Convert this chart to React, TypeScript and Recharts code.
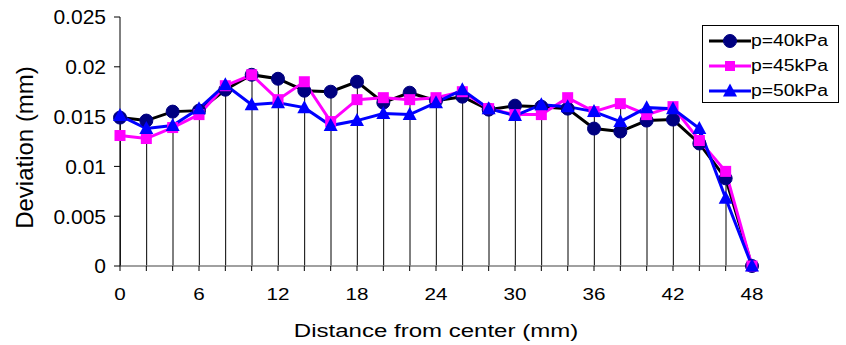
import React from "react";
import { ComposedChart, Line, Bar, XAxis, YAxis } from "recharts";

const distance = [0, 2, 4, 6, 8, 10, 12, 14, 16, 18, 20, 22, 24, 26, 28, 30, 32, 34, 36, 38, 40, 42, 44, 46, 48];
const p40 = [0.0149, 0.0146, 0.0155, 0.0156, 0.0177, 0.0192, 0.0188, 0.0176, 0.0175, 0.0185, 0.0164, 0.0174, 0.0166, 0.017, 0.0157, 0.0161, 0.016, 0.0158, 0.0138, 0.0135, 0.0146, 0.0147, 0.0123, 0.0088, 0];
const p45 = [0.0131, 0.0128, 0.0139, 0.0152, 0.0181, 0.0192, 0.0167, 0.0185, 0.0145, 0.0167, 0.0169, 0.0167, 0.0169, 0.0175, 0.0158, 0.0152, 0.0152, 0.0169, 0.0155, 0.0163, 0.0152, 0.016, 0.0126, 0.0095, 0];
const p50 = [0.0151, 0.0138, 0.0141, 0.0158, 0.0182, 0.0162, 0.0164, 0.0159, 0.0141, 0.0146, 0.0153, 0.0152, 0.0164, 0.0177, 0.0158, 0.0151, 0.0162, 0.016, 0.0155, 0.0145, 0.0159, 0.0158, 0.0138, 0.0068, 0];
const labeledTicks = [0, 6, 12, 18, 24, 30, 36, 42, 48];
const yTicks = [0, 0.005, 0.01, 0.015, 0.02, 0.025];
const seriesNames = ["p=40kPa", "p=45kPa", "p=50kPa"];

const FONT = "'Liberation Sans', Arial, sans-serif";

const chartData = distance.map((d, i) => ({
  d,
  p40: p40[i],
  p45: p45[i],
  p50: p50[i],
  top: Math.max(p40[i], p45[i], p50[i]),
}));

const CircleMark = ({ cx, cy, r = 6.5 }: any) => (
  <circle cx={cx} cy={cy} r={r} fill="#000080" stroke="#000080" />
);
const SquareMark = ({ cx, cy, s = 11 }: any) => (
  <rect x={cx - s / 2} y={cy - s / 2} width={s} height={s} fill="#FF00FF" />
);
const TriangleMark = ({ cx, cy }: any) => (
  <polygon points={`${cx},${cy - 7.5} ${cx + 7},${cy + 5.5} ${cx - 7},${cy + 5.5}`} fill="#0000FF" />
);

const dotCircle = (p: any) => <CircleMark key={`c-${p.index}`} cx={p.cx} cy={p.cy} />;
const dotSquare = (p: any) => <SquareMark key={`s-${p.index}`} cx={p.cx} cy={p.cy} />;
const dotTriangle = (p: any) => <TriangleMark key={`t-${p.index}`} cx={p.cx} cy={p.cy} />;

const DropLine = (props: any) => {
  const { x, y, width, height } = props;
  const cx = x + width / 2;
  return <line x1={cx} x2={cx} y1={y} y2={y + height} stroke="#000" strokeWidth={1} />;
};

const XTick = ({ x, y, payload }: any) => {
  if (payload.value % 6 !== 0) return <g />;
  return (
    <text
      transform={`translate(${x},${y + 27}) scale(1.29,1)`}
      textAnchor="middle"
      fontSize={16}
      fontFamily={FONT}
      fill="#000"
    >
      {payload.value}
    </text>
  );
};

const XTitle = ({ viewBox }: any) => (
  <text
    transform={`translate(${viewBox.x + viewBox.width / 2},${viewBox.y + 70.5}) scale(1.3,1)`}
    textAnchor="middle"
    fontSize={18.5}
    fontFamily={FONT}
    fill="#000"
  >
    Distance from center (mm)
  </text>
);

const YTitle = ({ viewBox }: any) => {
  const cx = viewBox.x + 24;
  const cy = viewBox.y + viewBox.height / 2 + 6;
  return (
    <text
      transform={`translate(${cx},${cy}) rotate(-90)`}
      textAnchor="middle"
      dominantBaseline="central"
      fontSize={24}
      fontFamily={FONT}
      fill="#000"
    >
      Deviation (mm)
    </text>
  );
};

const legendMarks = [
  { color: "#000000", mark: <CircleMark cx={21} cy={10} /> },
  { color: "#FF00FF", mark: <SquareMark cx={21} cy={10} s={10} /> },
  { color: "#0000FF", mark: <TriangleMark cx={21} cy={10} /> },
];

export default function App() {
  return (
    <div style={{ position: "absolute", left: 0, top: 0, width: 846, height: 345, background: "#fff" }}>
      <ComposedChart
        width={846}
        height={345}
        data={chartData}
        margin={{ top: 17, right: 94, left: 0, bottom: 0 }}
      >
        <XAxis
          dataKey="d"
          type="number"
          domain={[0, 48]}
          ticks={distance}
          interval={0}
          height={79}
          tickSize={5}
          axisLine={{ stroke: "#808080", strokeWidth: 1.5 }}
          tickLine={{ stroke: "#000" }}
          tick={<XTick />}
          label={{ content: <XTitle /> }}
        />
        <YAxis
          type="number"
          domain={[0, 0.025]}
          ticks={yTicks}
          width={120}
          tickSize={6}
          tickMargin={8}
          axisLine={{ stroke: "#000" }}
          tickLine={{ stroke: "#000" }}
          tick={{ fontSize: 21, fill: "#000", fontFamily: FONT }}
          label={{ content: <YTitle /> }}
        />
        <Bar dataKey="top" barSize={1} shape={<DropLine />} isAnimationActive={false} />
        <Line
          dataKey="p40"
          stroke="#000000"
          strokeWidth={3}
          dot={dotCircle}
          activeDot={false}
          isAnimationActive={false}
        />
        <Line
          dataKey="p45"
          stroke="#FF00FF"
          strokeWidth={3}
          dot={dotSquare}
          activeDot={false}
          isAnimationActive={false}
        />
        <Line
          dataKey="p50"
          stroke="#0000FF"
          strokeWidth={3}
          dot={dotTriangle}
          activeDot={false}
          isAnimationActive={false}
        />
      </ComposedChart>
      <div
        style={{
          position: "absolute",
          left: 702,
          top: 25,
          width: 137,
          height: 78,
          border: "1px solid #000",
          boxSizing: "border-box",
          background: "#fff",
          paddingTop: 2,
        }}
      >
        {seriesNames.map((name, i) => (
          <div key={name} style={{ display: "flex", alignItems: "center", height: 25 }}>
            <svg width={42} height={20} style={{ marginLeft: 6, flex: "none" }}>
              <line x1={0} x2={42} y1={10} y2={10} stroke={legendMarks[i].color} strokeWidth={3} />
              {legendMarks[i].mark}
            </svg>
            <span
              style={{
                fontFamily: FONT,
                fontSize: 16,
                color: "#000",
                display: "inline-block",
                transform: "scaleX(1.21)",
                transformOrigin: "left center",
                whiteSpace: "nowrap",
              }}
            >
              {name}
            </span>
          </div>
        ))}
      </div>
    </div>
  );
}
